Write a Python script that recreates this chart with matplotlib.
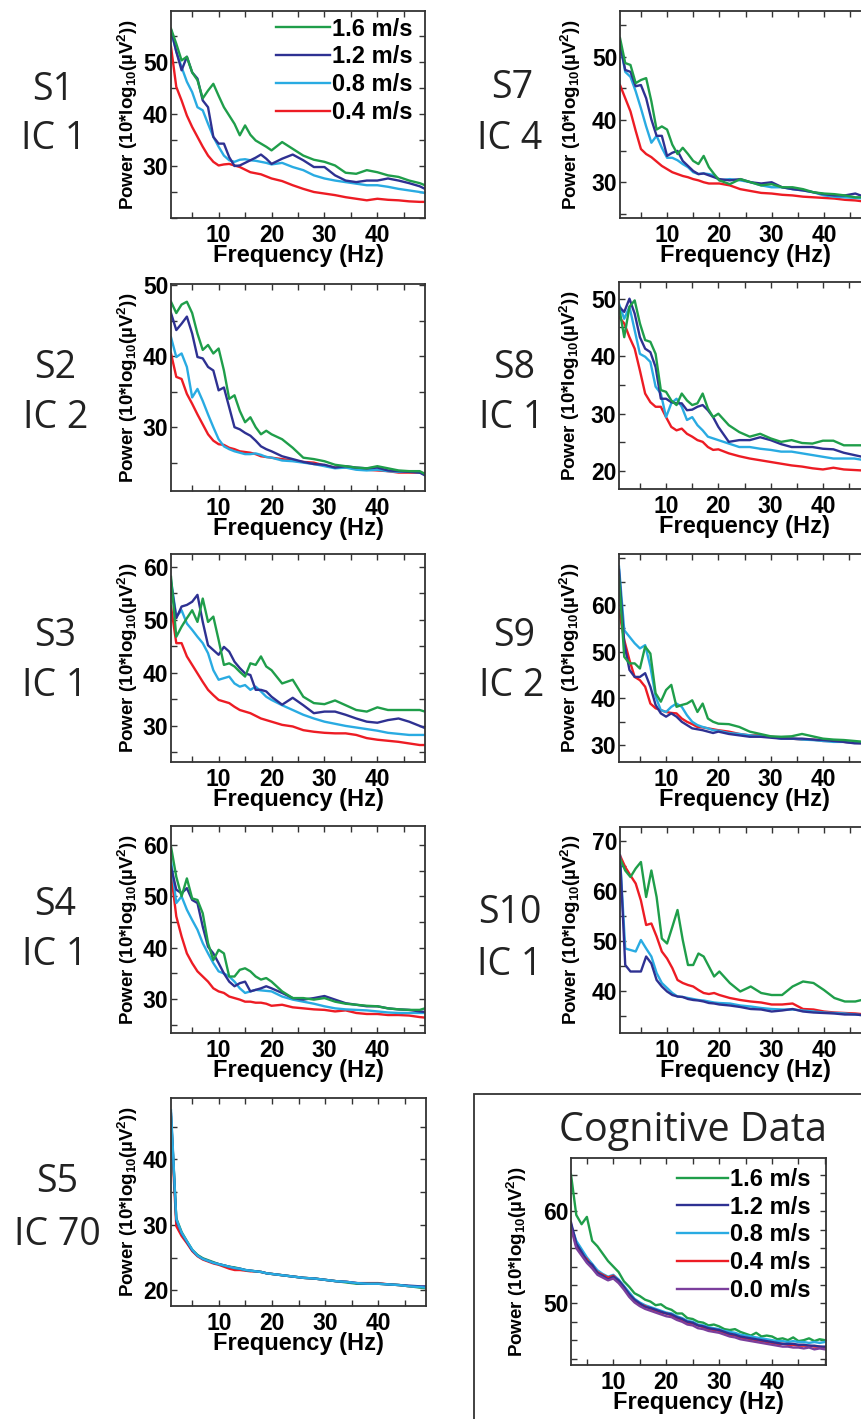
import matplotlib
matplotlib.use('Agg')
import matplotlib.pyplot as plt
from matplotlib.patches import Rectangle
from matplotlib.ticker import MultipleLocator, FixedLocator

plt.rcParams['font.family'] = ['Liberation Sans', 'DejaVu Sans']
plt.rcParams['font.weight'] = 'bold'
plt.rcParams['axes.labelweight'] = 'bold'
plt.rcParams['mathtext.fontset'] = 'custom'
plt.rcParams['mathtext.rm'] = 'Liberation Sans:bold'
plt.rcParams['mathtext.default'] = 'rm'

# ---------------- data ----------------
FREQ = list(range(1, 21)) + list(range(22, 49, 2)) + [49]
SPEEDS = ['1.6 m/s', '1.2 m/s', '0.8 m/s', '0.4 m/s']

S1_G = [56.4, 53.5, 50.3, 51.0, 48.0, 46.5, 43.0, 44.5, 45.8, 43.5, 41.3, 39.7, 38.1, 35.9, 37.8, 36.0, 34.9, 34.3, 33.7, 33.0,
        34.6, 33.3, 32.0, 31.2, 30.8, 30.1, 28.7, 28.5, 29.2, 28.8, 28.2, 27.9, 27.2, 26.7, 26.3]
S1_B = [56.2, 52.0, 48.4, 51.0, 48.0, 46.8, 42.6, 41.3, 35.6, 34.3, 34.3, 31.7, 30.0, 30.1, 30.6, 31.1, 31.6, 32.2, 31.4, 30.4,
        31.4, 32.2, 31.1, 29.8, 29.8, 28.2, 27.2, 26.9, 27.2, 27.2, 27.6, 27.2, 26.7, 26.1, 25.6]
S1_C = [56.0, 52.0, 49.0, 46.2, 44.2, 41.3, 40.7, 38.1, 35.6, 33.7, 32.0, 31.1, 30.8, 31.2, 31.3, 31.1, 31.0, 30.8, 30.6, 30.3,
        30.6, 29.8, 29.2, 28.2, 27.6, 27.2, 26.9, 26.6, 26.3, 26.3, 26.0, 25.6, 25.3, 25.0, 24.8]
S1_R = [52.9, 45.2, 42.6, 39.7, 37.5, 35.6, 33.7, 32.0, 30.8, 30.1, 30.3, 30.4, 30.1, 29.8, 29.3, 28.8, 28.6, 28.4, 28.0, 27.6,
        27.1, 26.3, 25.6, 25.0, 24.7, 24.4, 24.0, 23.7, 23.4, 23.7, 23.5, 23.4, 23.2, 23.1, 23.1]

S2_G = [47.7, 46.1, 47.3, 47.7, 46.1, 43.2, 40.9, 41.6, 40.4, 41.1, 38.0, 34.0, 34.5, 32.3, 30.7, 31.4, 30.0, 29.0, 29.5, 29.0,
        28.3, 27.1, 25.7, 25.5, 25.2, 24.7, 24.5, 24.3, 24.2, 24.5, 24.2, 23.9, 23.8, 23.8, 23.4]
S2_B = [46.1, 43.7, 44.6, 45.6, 43.2, 39.9, 39.7, 38.5, 38.0, 35.2, 35.6, 32.8, 30.0, 29.7, 29.2, 28.8, 28.1, 27.3, 26.9, 26.6,
        25.9, 25.5, 25.1, 24.8, 24.7, 24.3, 24.5, 24.3, 24.2, 24.3, 23.9, 23.8, 23.7, 23.6, 23.2]
S2_C = [42.7, 39.9, 40.4, 38.5, 34.2, 35.4, 33.7, 31.8, 30.0, 28.3, 27.3, 26.9, 26.6, 26.4, 26.2, 26.2, 26.3, 26.1, 25.8, 25.7,
        25.3, 25.2, 25.0, 24.8, 24.5, 24.2, 24.3, 24.0, 23.9, 24.0, 23.8, 23.7, 23.8, 23.6, 23.4]
S2_R = [40.4, 37.1, 36.8, 34.7, 33.3, 31.8, 30.4, 29.0, 28.1, 27.6, 27.5, 27.1, 26.9, 26.6, 26.5, 26.4, 26.2, 25.9, 25.8, 25.7,
        25.5, 25.3, 25.1, 25.0, 24.6, 24.3, 24.3, 24.2, 24.0, 23.9, 23.8, 23.6, 23.6, 23.6, 23.5]

S3_G = [58.1, 46.8, 48.7, 50.3, 51.8, 49.6, 54.0, 49.6, 50.6, 46.2, 41.5, 41.8, 41.2, 40.2, 39.3, 41.8, 41.5, 43.1, 41.2, 40.5,
        38.0, 38.7, 35.5, 34.3, 34.1, 34.8, 33.9, 33.0, 32.7, 33.5, 33.0, 33.0, 33.0, 33.0, 32.7]
S3_B = [56.9, 50.3, 52.5, 52.8, 53.4, 54.7, 49.6, 45.2, 44.3, 43.4, 44.9, 44.0, 42.1, 40.9, 39.9, 39.6, 36.8, 36.8, 36.5, 35.5,
        34.0, 35.3, 33.9, 32.4, 32.7, 32.7, 32.1, 31.4, 30.8, 30.6, 31.1, 31.4, 30.8, 30.0, 29.6]
S3_C = [57.5, 50.6, 51.8, 49.3, 48.1, 46.8, 45.6, 43.7, 40.5, 38.7, 39.0, 39.3, 38.0, 37.4, 37.7, 36.8, 37.4, 36.5, 35.5, 34.9,
        33.9, 33.0, 32.1, 31.4, 30.8, 30.4, 30.0, 29.7, 29.4, 29.1, 28.7, 28.5, 28.3, 28.3, 28.3]
S3_R = [52.5, 45.6, 45.6, 43.1, 41.5, 39.9, 38.3, 36.8, 35.8, 34.9, 34.6, 34.3, 33.6, 33.0, 32.7, 32.4, 31.9, 31.4, 31.1, 30.8,
        30.2, 29.9, 29.2, 28.9, 28.7, 28.6, 28.6, 28.3, 27.7, 27.4, 27.2, 27.0, 26.7, 26.4, 26.4]

S4_G = [59.7, 53.8, 50.0, 53.5, 49.6, 49.3, 46.7, 40.9, 37.6, 39.6, 38.9, 34.4, 34.4, 35.7, 36.0, 35.4, 34.4, 33.8, 34.1, 33.4,
        31.5, 30.2, 30.2, 29.9, 30.2, 29.5, 29.1, 28.9, 28.7, 28.6, 28.2, 28.0, 27.9, 27.9, 28.2]
S4_B = [55.8, 51.3, 50.6, 51.6, 49.3, 48.7, 44.1, 40.2, 38.9, 37.0, 35.0, 33.4, 32.5, 33.1, 33.4, 31.5, 31.8, 32.1, 32.5, 32.1,
        31.2, 30.2, 29.9, 30.2, 30.6, 29.9, 29.2, 28.9, 28.6, 28.6, 28.2, 28.0, 27.9, 27.6, 27.5]
S4_C = [57.1, 48.7, 50.0, 47.4, 45.4, 43.5, 40.9, 38.9, 37.0, 35.4, 35.0, 34.4, 33.4, 32.1, 31.2, 31.5, 31.8, 31.7, 31.6, 31.5,
        30.5, 29.9, 29.5, 29.1, 28.6, 28.2, 28.0, 27.9, 27.8, 27.6, 27.4, 27.3, 27.3, 27.3, 27.3]
S4_R = [54.5, 46.1, 42.2, 38.9, 37.0, 35.4, 34.4, 33.4, 32.1, 31.5, 31.2, 30.5, 30.2, 29.9, 29.5, 29.5, 29.3, 29.3, 29.1, 28.7,
        28.9, 28.4, 28.2, 28.0, 27.9, 27.6, 27.8, 27.3, 27.1, 27.1, 26.9, 26.9, 26.8, 26.5, 26.4]

S5_G = [46.5, 31.0, 28.9, 27.5, 26.2, 25.4, 24.9, 24.6, 24.3, 24.0, 23.8, 23.6, 23.5, 23.3, 23.1, 23.0, 22.9, 22.8, 22.6, 22.5,
        22.3, 22.1, 21.9, 21.8, 21.6, 21.4, 21.2, 21.0, 21.0, 21.0, 20.9, 20.8, 20.6, 20.4, 20.3]
S5_B = [47.0, 30.7, 28.7, 27.4, 26.1, 25.3, 24.8, 24.5, 24.2, 24.0, 23.8, 23.6, 23.4, 23.3, 23.1, 23.0, 22.9, 22.8, 22.6, 22.5,
        22.3, 22.1, 21.9, 21.8, 21.6, 21.4, 21.3, 21.1, 21.0, 21.0, 20.9, 20.8, 20.7, 20.6, 20.6]
S5_C = [47.5, 30.9, 28.8, 27.5, 26.2, 25.3, 24.8, 24.5, 24.2, 24.0, 23.8, 23.6, 23.4, 23.3, 23.1, 23.0, 22.9, 22.8, 22.6, 22.5,
        22.3, 22.1, 21.9, 21.8, 21.6, 21.4, 21.3, 21.1, 21.0, 21.0, 20.9, 20.8, 20.6, 20.5, 20.4]
S5_R = [45.5, 29.8, 28.3, 27.2, 26.0, 25.2, 24.7, 24.4, 24.1, 23.9, 23.6, 23.3, 23.1, 23.1, 23.0, 22.9, 22.9, 22.8, 22.6, 22.5,
        22.3, 22.1, 21.9, 21.8, 21.6, 21.4, 21.3, 21.1, 21.1, 21.1, 20.9, 20.8, 20.6, 20.5, 20.4]

S7_G = [53.0, 49.0, 48.7, 45.8, 46.3, 46.6, 42.9, 38.4, 38.9, 38.4, 36.0, 34.5, 35.5, 34.5, 33.4, 32.9, 34.2, 32.4, 31.3, 30.3,
        29.7, 30.5, 30.0, 29.5, 29.7, 29.2, 29.2, 28.9, 28.4, 28.2, 28.1, 27.9, 27.6, 27.6, 27.6]
S7_B = [52.0, 47.9, 47.6, 45.3, 45.5, 43.4, 40.0, 37.4, 37.4, 34.2, 34.7, 35.0, 33.4, 32.6, 31.8, 31.3, 31.4, 31.1, 30.8, 30.5,
        30.3, 30.5, 30.0, 29.8, 30.0, 29.2, 28.9, 28.7, 28.4, 28.1, 27.9, 27.9, 28.2, 27.6, 27.5]
S7_C = [52.0, 47.6, 46.8, 44.5, 41.8, 38.9, 36.3, 37.4, 35.5, 33.9, 33.9, 33.5, 32.9, 32.4, 31.6, 31.3, 31.4, 31.3, 31.1, 30.3,
        30.5, 30.3, 30.0, 29.5, 29.2, 29.2, 28.9, 28.7, 28.4, 27.9, 27.7, 27.6, 27.5, 27.4, 27.3]
S7_R = [45.5, 43.4, 41.3, 38.2, 35.3, 34.5, 34.0, 33.3, 32.6, 32.1, 31.6, 31.3, 31.0, 30.8, 30.5, 30.3, 30.0, 29.8, 29.8, 29.8,
        29.5, 28.9, 28.6, 28.3, 28.2, 28.0, 27.9, 27.7, 27.6, 27.5, 27.4, 27.2, 27.1, 26.9, 26.8]

S8_G = [48.6, 43.3, 48.6, 49.7, 45.7, 42.8, 42.5, 40.4, 34.1, 33.8, 32.3, 31.5, 33.5, 32.3, 31.5, 31.8, 33.5, 30.9, 29.4, 30.0,
        28.0, 26.8, 26.0, 26.5, 25.7, 25.1, 25.4, 24.9, 24.8, 25.3, 25.3, 24.5, 24.5, 24.5, 24.5]
S8_B = [48.6, 47.7, 50.0, 47.4, 43.3, 41.3, 40.7, 38.1, 32.6, 32.6, 32.0, 31.8, 31.8, 30.6, 30.7, 31.2, 31.5, 30.6, 29.4, 27.7,
        25.1, 25.4, 25.4, 25.9, 25.4, 24.7, 24.2, 24.2, 24.2, 23.9, 23.8, 23.2, 22.8, 22.4, 22.2]
S8_C = [49.1, 46.5, 48.6, 44.5, 40.4, 39.9, 39.0, 34.7, 33.5, 29.4, 31.8, 32.6, 31.2, 28.9, 29.4, 28.0, 27.1, 26.0, 25.7, 25.4,
        24.8, 24.2, 24.2, 23.9, 23.7, 23.4, 23.4, 23.1, 22.8, 22.5, 22.2, 22.2, 22.2, 21.9, 21.8]
S8_R = [46.8, 45.7, 43.3, 41.3, 37.5, 33.5, 32.0, 31.2, 31.2, 29.4, 27.7, 27.1, 27.4, 26.5, 26.0, 25.4, 25.1, 24.2, 23.7, 23.8,
        23.1, 22.6, 22.2, 21.9, 21.6, 21.3, 21.0, 20.8, 20.5, 20.3, 20.6, 20.3, 20.2, 20.1, 20.0]

S9_G = [66.0, 48.9, 47.5, 47.5, 46.4, 51.1, 49.6, 41.1, 39.3, 41.8, 42.9, 38.2, 38.6, 38.9, 39.6, 37.1, 38.9, 35.7, 35.0, 34.6,
        34.5, 33.9, 32.9, 32.4, 31.9, 31.8, 31.9, 32.4, 31.9, 31.4, 31.2, 31.1, 30.9, 30.7, 30.7]
S9_B = [67.5, 51.8, 46.1, 44.6, 44.6, 45.4, 42.5, 38.6, 36.8, 36.1, 36.8, 36.1, 35.0, 34.3, 33.6, 33.4, 33.2, 32.9, 32.6, 32.9,
        32.4, 32.1, 31.8, 31.8, 31.6, 31.4, 31.4, 31.4, 31.2, 31.1, 30.9, 30.7, 30.4, 30.4, 30.5]
S9_C = [68.2, 54.6, 53.2, 51.8, 50.7, 51.4, 46.8, 40.4, 37.5, 37.1, 38.2, 38.9, 38.2, 36.4, 35.0, 34.3, 33.9, 33.6, 33.2, 33.1,
        32.6, 32.4, 32.1, 31.9, 31.8, 31.4, 31.4, 31.2, 31.1, 30.9, 30.7, 30.7, 30.5, 30.4, 30.4]
S9_R = [58.9, 52.5, 48.2, 44.6, 43.9, 42.5, 38.9, 37.9, 37.5, 37.1, 36.9, 36.8, 35.7, 35.0, 34.5, 33.9, 33.8, 33.6, 33.4, 33.2,
        32.9, 32.4, 32.1, 32.1, 31.8, 31.6, 31.4, 31.2, 31.2, 30.9, 30.9, 30.7, 30.5, 30.4, 30.4]

S10_G = [66.4, 64.0, 62.7, 64.4, 65.7, 58.7, 64.0, 58.7, 50.4, 49.4, 52.7, 56.1, 50.1, 45.1, 45.1, 47.4, 46.8, 44.8, 42.8, 43.8,
         41.5, 39.8, 40.8, 39.5, 39.1, 39.1, 40.8, 41.8, 41.5, 40.1, 38.5, 37.8, 37.8, 38.3, 38.4]
S10_B = [67.0, 45.1, 43.8, 43.8, 43.8, 46.8, 45.4, 42.1, 40.8, 39.8, 39.1, 38.8, 38.7, 38.3, 38.1, 38.0, 37.8, 37.5, 37.4, 37.2,
         37.0, 36.7, 36.3, 36.2, 35.8, 36.0, 36.3, 35.8, 35.6, 35.5, 35.4, 35.2, 35.2, 35.0, 34.9]
S10_C = [66.7, 48.4, 48.1, 47.8, 50.1, 48.4, 46.8, 43.5, 41.5, 40.5, 39.5, 38.8, 38.7, 38.5, 38.3, 38.1, 38.0, 37.8, 37.6, 37.5,
         37.4, 37.0, 36.8, 36.5, 36.3, 36.2, 36.2, 36.0, 35.8, 35.6, 35.5, 35.4, 35.2, 35.0, 34.9]
S10_R = [67.0, 64.7, 63.0, 61.4, 58.0, 53.1, 53.4, 50.8, 47.8, 46.4, 44.5, 42.1, 41.5, 41.1, 40.8, 40.1, 39.5, 39.3, 39.5, 39.1,
         38.5, 38.1, 37.8, 37.6, 37.2, 37.2, 37.4, 36.3, 36.2, 35.8, 35.6, 35.5, 35.4, 35.2, 35.1]

COG_FREQ = list(range(2, 51))
COG_SPEEDS = ['1.6 m/s', '1.2 m/s', '0.8 m/s', '0.4 m/s', '0.0 m/s']
COG_G = [64.0, 59.6, 58.6, 59.4, 56.8, 56.2, 55.4, 54.6, 54.0, 53.4, 52.4, 51.8, 51.1, 50.8, 50.4, 50.2, 49.8, 49.9, 49.5, 49.3,
         48.9, 48.9, 48.4, 48.3, 48.0, 47.9, 47.6, 47.7, 47.5, 47.2, 47.1, 47.2, 46.9, 46.7, 46.5, 46.8, 46.4, 46.5, 46.4, 46.1,
         46.2, 46.0, 46.3, 45.9, 46.0, 46.2, 45.9, 46.1, 46.0]
COG_B = [58.8, 56.5, 55.6, 54.6, 54.2, 53.3, 53.0, 52.6, 52.9, 52.5, 51.8, 51.0, 50.4, 50.0, 49.6, 49.5, 49.3, 49.1, 48.9, 48.8,
         48.5, 48.3, 48.0, 47.9, 47.6, 47.5, 47.3, 47.2, 47.1, 46.9, 46.7, 46.6, 46.4, 46.3, 46.2, 46.1, 46.0, 45.9, 45.8, 45.7,
         45.6, 45.6, 45.6, 45.5, 45.5, 45.4, 45.4, 45.3, 45.3]
COG_C = [58.5, 56.8, 55.9, 55.0, 54.3, 53.6, 53.2, 52.9, 53.1, 52.6, 51.9, 51.2, 50.5, 50.1, 49.8, 49.6, 49.4, 49.2, 49.0, 48.9,
         48.6, 48.4, 48.1, 48.0, 47.7, 47.6, 47.4, 47.3, 47.2, 47.0, 46.9, 46.8, 46.6, 46.5, 46.4, 46.3, 46.2, 46.1, 46.0, 45.9,
         45.9, 45.8, 45.9, 45.8, 45.8, 45.7, 45.8, 45.7, 45.8]
COG_R = [58.6, 56.2, 55.4, 54.8, 54.0, 53.4, 53.1, 52.8, 53.0, 52.4, 51.7, 50.9, 50.3, 49.9, 49.7, 49.4, 49.2, 49.0, 48.9, 48.7,
         48.4, 48.2, 47.9, 47.8, 47.6, 47.4, 47.2, 47.1, 47.0, 46.8, 46.6, 46.5, 46.3, 46.2, 46.1, 46.0, 45.9, 45.8, 45.7, 45.6,
         45.6, 45.5, 45.5, 45.4, 45.4, 45.4, 45.3, 45.3, 45.2]
COG_P = [58.2, 56.0, 55.2, 54.4, 53.8, 53.1, 52.8, 52.5, 52.7, 52.2, 51.5, 50.7, 50.1, 49.7, 49.4, 49.2, 49.0, 48.8, 48.6, 48.5,
         48.2, 48.0, 47.7, 47.6, 47.3, 47.2, 47.0, 46.9, 46.8, 46.6, 46.4, 46.3, 46.1, 46.0, 45.9, 45.8, 45.7, 45.6, 45.5, 45.4,
         45.3, 45.3, 45.2, 45.2, 45.1, 45.2, 45.0, 45.1, 45.0]

# ---------------- style / layout ----------------
COLORS = ['#1f9e4a', '#2e3192', '#29abe2', '#ed1c24']
COG_COLORS = ['#1f9e4a', '#2e3192', '#29abe2', '#ed1c24', '#7b3f9c']
W, H = 861, 1419
EDGE = '#333333'

fig = plt.figure(figsize=(W / 100, H / 100), dpi=100)


def make_axes(x0, y0, x1, y1):
    return fig.add_axes([x0 / W, 1 - y1 / H, (x1 - x0) / W, (y1 - y0) / H])


def style(ax, xlim, ylim, yticks, yminor=5, ypad=2):
    ax.set_xlim(*xlim)
    ax.set_ylim(*ylim)
    ax.xaxis.set_major_locator(FixedLocator([10, 20, 30, 40]))
    ax.xaxis.set_minor_locator(MultipleLocator(5))
    ax.yaxis.set_major_locator(FixedLocator(yticks))
    ax.yaxis.set_minor_locator(MultipleLocator(yminor))
    ax.tick_params(which='both', direction='in', top=True, right=True,
                   length=4, width=1.0, color=EDGE, labelsize=16.5, pad=2)
    ax.tick_params(axis='x', pad=4)
    for s in ax.spines.values():
        s.set_color(EDGE)
        s.set_linewidth(1.3)
    ax.set_xlabel('Frequency (Hz)', fontsize=17, fontweight='bold', labelpad=-2)
    ax.set_ylabel(r'Power (10*log$_{10}$(µV$^{2}$))', fontsize=13.5, fontweight='bold', labelpad=ypad)


PANELS = [
    ('S1', 'IC 1', (171, 11, 425, 218), (20.0, 59.8), [30, 40, 50], [S1_G, S1_B, S1_C, S1_R], (53, 90), (54, 139), True, 2),
    ('S2', 'IC 2', (171, 284, 425, 491), (21.0, 50.2), [30, 40, 50], [S2_G, S2_B, S2_C, S2_R], (55, 368), (56, 418), False, 2),
    ('S3', 'IC 1', (171, 554, 425, 762), (23.2, 62.4), [30, 40, 50, 60], [S3_G, S3_B, S3_C, S3_R], (55, 636), (55, 686), False, 2),
    ('S4', 'IC 1', (171, 826, 425, 1033), (23.4, 63.7), [30, 40, 50, 60], [S4_G, S4_B, S4_C, S4_R], (55, 905), (55, 955), False, 2),
    ('S5', 'IC 70', (171, 1098, 426, 1306), (17.6, 49.4), [20, 30, 40], [S5_R, S5_G, S5_B, S5_C], (57, 1182), (57, 1235), False, 2),
    ('S7', 'IC 4', (620, 11, 871, 218), (24.3, 57.3), [30, 40, 50], [S7_G, S7_B, S7_C, S7_R], (512, 88), (510, 139), False, 6),
    ('S8', 'IC 1', (619, 282, 870, 489), (16.9, 52.9), [20, 30, 40, 50], [S8_G, S8_B, S8_C, S8_R], (514, 368), (512, 418), False, 6),
    ('S9', 'IC 2', (619, 554, 870, 762), (26.4, 70.9), [30, 40, 50, 60], [S9_G, S9_B, S9_C, S9_R], (514, 636), (512, 686), False, 6),
    ('S10', 'IC 1', (620, 827, 871, 1033), (31.5, 72.7), [40, 50, 60, 70], [S10_G, S10_B, S10_C, S10_R], (510, 913), (510, 965), False, 6),
]

for name, ic, box, ylim, yticks, series, p1, p2, legend, ypad in PANELS:
    ax = make_axes(*box)
    if name == 'S5':
        cols = [COLORS[3], COLORS[0], COLORS[1], COLORS[2]]
        labs = [SPEEDS[3], SPEEDS[0], SPEEDS[1], SPEEDS[2]]
        order = range(4)
    else:
        cols = COLORS
        labs = SPEEDS
        order = [3, 2, 1, 0]
    handles = {}
    for i in order:
        ln, = ax.plot(FREQ, series[i], color=cols[i], lw=1.7, label=labs[i])
        handles[labs[i]] = ln
    style(ax, (1, 49), ylim, yticks, ypad=ypad)
    if legend:
        ax.legend([handles[s] for s in SPEEDS], SPEEDS, loc='upper left',
                  bbox_to_anchor=(0.415, 0.968), frameon=False, fontsize=17,
                  handlelength=2.25, handletextpad=0.12, labelspacing=0.2,
                  borderpad=0, borderaxespad=0)
    fig.text(p1[0] / W, 1 - p1[1] / H, name, family='Open Sans', fontweight='normal',
             fontsize=27, ha='center', va='center', color='#222222')
    fig.text(p2[0] / W, 1 - p2[1] / H, ic, family='Open Sans', fontweight='normal',
             fontsize=27, ha='center', va='center', color='#222222')

# Cognitive panel
fig.add_artist(Rectangle((474 / W, -0.05), 0.6, 1 - 1094 / H + 0.05, transform=fig.transFigure,
                         fill=False, ec=EDGE, lw=1.3))
fig.text(693 / W, 1 - 1131 / H, 'Cognitive Data', family='Open Sans', fontweight='normal',
         fontsize=28.5, ha='center', va='center', color='#222222')
axc = make_axes(571, 1158, 826, 1365)
cog_series = [COG_G, COG_B, COG_C, COG_R, COG_P]
ch = {}
for i in [0, 2, 3, 1, 4]:
    ln, = axc.plot(COG_FREQ, cog_series[i], color=COG_COLORS[i], lw=1.7)
    ch[i] = ln
style(axc, (2, 50.2), (43.3, 65.8), [50, 60], yminor=2, ypad=10)
axc.legend([ch[i] for i in range(5)], COG_SPEEDS, loc='upper left',
           bbox_to_anchor=(0.415, 0.952), frameon=False, fontsize=17,
           handlelength=2.15, handletextpad=0.12, labelspacing=0.2,
           borderpad=0, borderaxespad=0)

fig.savefig('out.png', dpi=100)
